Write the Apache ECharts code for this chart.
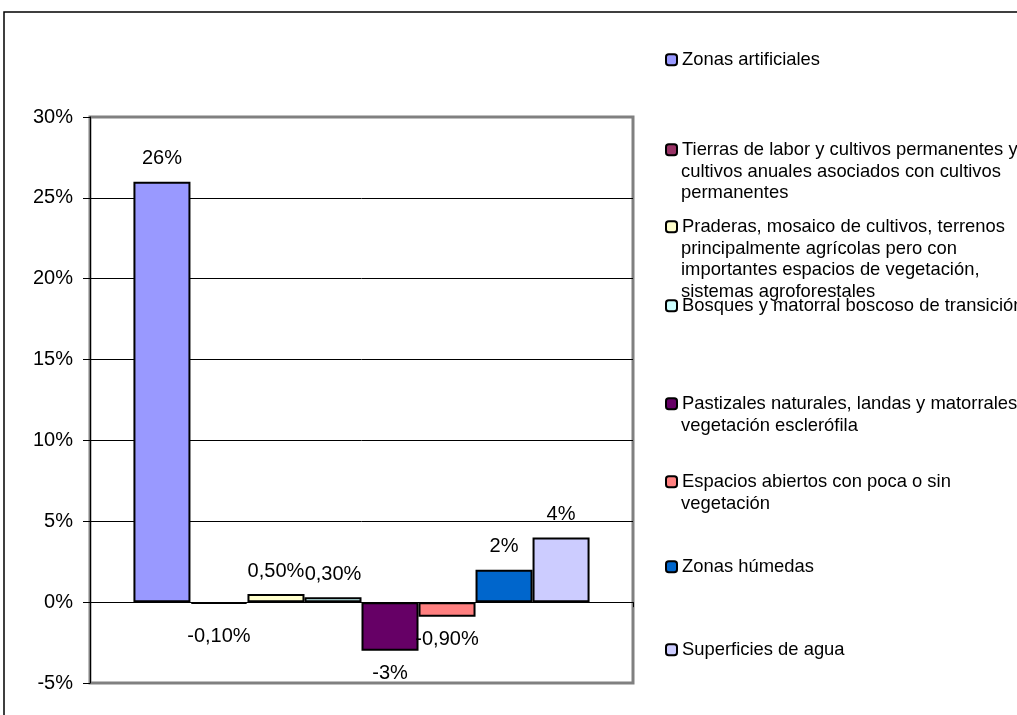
<!DOCTYPE html>
<html>
<head>
<meta charset="utf-8">
<script src="https://cdn.jsdelivr.net/npm/echarts@6/dist/echarts.min.js"></script>
<style>
html,body{margin:0;padding:0;background:#fff;}
#chart{width:1017px;height:715px;}
</style>
</head>
<body>
<div id="chart"></div>
<script>
// ---- data ----
var seriesNames = [
  'Zonas artificiales',
  'Tierras de labor y cultivos permanentes y\ncultivos anuales asociados con cultivos\npermanentes',
  'Praderas, mosaico de cultivos, terrenos\nprincipalmente agrícolas pero con\nimportantes espacios de vegetación,\nsistemas agroforestales',
  'Bosques y matorral boscoso de transición',
  'Pastizales naturales, landas y matorrales\nvegetación esclerófila',
  'Espacios abiertos con poca o sin\nvegetación',
  'Zonas húmedas',
  'Superficies de agua'
];
var seriesValues = [26, -0.1, 0.5, 0.3, -3, -0.9, 2, 4];
var seriesColors = ['#9999FF', '#993366', '#FFFFCC', '#CCFFFF', '#660066', '#FF8080', '#0066CC', '#CCCCFF'];
var yTicks = {min: -5, max: 30, interval: 5};

// ---- layout (not data) ----
var FONT = '"Liberation Sans", Arial, sans-serif';
var FS = 18.4;
var AFS = 20;
var legendCenters = [60, 150, 227, 306, 404, 482, 567, 650];
var LINE_H = 21.5;

function fmt(v) {
  return Number.isInteger(v) ? v + '%' : v.toFixed(2).replace('.', ',') + '%';
}

var series = seriesNames.map(function (name, i) {
  var v = seriesValues[i];
  var dist = 13;
  if (Math.abs(v) < 0.2 && v < 0) dist = 23;
  return {
    name: name,
    type: 'bar',
    barGap: '0%',
    barCategoryGap: '16%',
    data: [{value: v}],
    itemStyle: {color: seriesColors[i], borderColor: '#000', borderWidth: 2},
    label: {
      show: true,
      position: v >= 0 ? 'top' : 'bottom',
      distance: dist,
      formatter: function (p) { return fmt(p.value); },
      color: '#000',
      fontFamily: FONT,
      fontSize: AFS
    },
    emphasis: {disabled: true},
    animation: false
  };
});

var legends = [];
var graphics = [{
  type: 'rect',
  shape: {x: 4, y: 12, width: 1030, height: 720},
  style: {fill: 'none', stroke: '#000', lineWidth: 1.5},
  silent: true
}];
seriesNames.forEach(function (name, i) {
  var lines = name.split('\n');
  legends.push({
    data: [name],
    left: 665,
    top: legendCenters[i] - FS / 2,
    padding: 0,
    orient: 'vertical',
    itemWidth: 11,
    itemHeight: 11,
    selectedMode: false,
    formatter: function () { return lines[0]; },
    textStyle: {fontFamily: FONT, fontSize: FS, color: '#000'},
    itemStyle: {borderColor: '#000', borderWidth: 2}
  });
  for (var k = 1; k < lines.length; k++) {
    graphics.push({
      type: 'text',
      x: 681,
      y: legendCenters[i] + k * LINE_H,
      silent: true,
      style: {
        text: lines[k],
        font: FS + 'px ' + FONT,
        fill: '#000',
        verticalAlign: 'middle'
      }
    });
  }
});

var chart = echarts.init(document.getElementById('chart'), null, {renderer: 'canvas'});
chart.setOption({
  backgroundColor: '#fff',
  animation: false,
  grid: {
    left: 90, right: 384, top: 117, bottom: 32,
    show: true, borderColor: '#808080', borderWidth: 3, backgroundColor: '#fff'
  },
  legend: legends,
  xAxis: {
    type: 'category',
    data: [''],
    axisLine: {onZero: true, lineStyle: {color: '#000', width: 1}},
    axisTick: {show: true, length: 5, lineStyle: {color: '#000'}},
    axisLabel: {show: false},
    splitLine: {show: false}
  },
  yAxis: {
    type: 'value',
    min: yTicks.min,
    max: yTicks.max,
    interval: yTicks.interval,
    axisLine: {show: true, lineStyle: {color: '#000', width: 1}},
    axisTick: {show: true, length: 7, lineStyle: {color: '#000'}},
    axisLabel: {
      formatter: '{value}%',
      color: '#000',
      fontFamily: FONT,
      fontSize: AFS,
      margin: 17
    },
    splitLine: {
      show: true,
      lineStyle: {
        color: ['rgba(0,0,0,0)', '#000', '#000', '#000', '#000', '#000', '#000', 'rgba(0,0,0,0)'],
        width: 1
      }
    }
  },
  graphic: graphics,
  series: series
});
</script>
</body>
</html>
